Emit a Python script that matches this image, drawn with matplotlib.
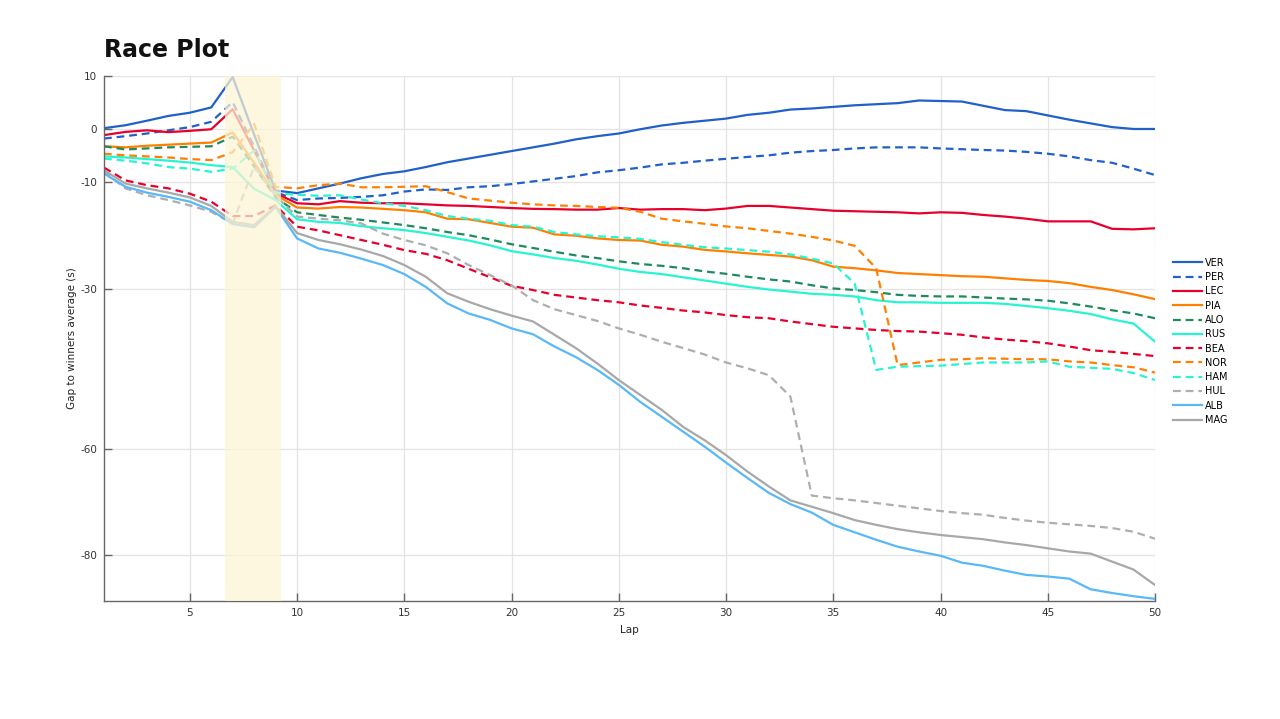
import matplotlib
matplotlib.use("Agg")
import matplotlib.pyplot as plt

plt.rcParams["axes.unicode_minus"] = False

laps = list(range(1, 51))

drivers = ["VER", "PER", "LEC", "PIA", "ALO", "RUS", "BEA", "NOR", "HAM", "HUL", "ALB", "MAG"]

VER = [0.2, 0.75, 1.6, 2.5, 3.1, 4.1, 9.8, -1.0, -11.5, -12.0,
       -11.1, -10.2, -9.2, -8.4, -7.9, -7.1, -6.2, -5.5, -4.8, -4.1,
       -3.4, -2.7, -1.9, -1.3, -0.8, 0.0, 0.7, 1.2, 1.6, 2.0,
       2.7, 3.1, 3.7, 3.9, 4.2, 4.5, 4.7, 4.9, 5.4, 5.3,
       5.2, 4.4, 3.6, 3.4, 2.6, 1.8, 1.1, 0.4, 0.05, 0.05]
PER = [-1.75, -1.3, -0.8, -0.2, 0.4, 1.4, 5.1, -3.3, -11.8, -13.3,
       -13.0, -12.9, -12.7, -12.4, -11.7, -11.3, -11.4, -10.9, -10.7, -10.3,
       -9.8, -9.3, -8.8, -8.1, -7.7, -7.2, -6.6, -6.3, -5.9, -5.55,
       -5.2, -4.9, -4.4, -4.1, -3.9, -3.6, -3.4, -3.4, -3.4, -3.6,
       -3.75, -3.9, -4.0, -4.25, -4.6, -5.1, -5.8, -6.3, -7.4, -8.6]
LEC = [-1.1, -0.5, -0.2, -0.55, -0.3, 0.0, 3.75, -4.0, -12.0, -13.9,
       -14.1, -13.5, -13.8, -13.9, -13.9, -14.1, -14.3, -14.4, -14.6, -14.8,
       -14.95, -15.0, -15.1, -15.1, -14.8, -15.1, -15.0, -15.0, -15.2, -14.9,
       -14.4, -14.4, -14.7, -15.0, -15.3, -15.4, -15.5, -15.6, -15.8, -15.6,
       -15.7, -16.1, -16.4, -16.8, -17.3, -17.3, -17.3, -18.7, -18.8, -18.6]
PIA = [-3.2, -3.4, -3.1, -2.9, -2.7, -2.5, -0.6, -6.3, -12.3, -14.7,
       -14.9, -14.6, -14.7, -14.95, -15.2, -15.6, -16.8, -16.9, -17.6, -18.3,
       -18.5, -19.75, -20.0, -20.5, -20.8, -20.9, -21.7, -22.05, -22.65, -22.95,
       -23.3, -23.6, -23.9, -24.6, -25.8, -26.1, -26.5, -27.0, -27.2, -27.4,
       -27.6, -27.7, -28.0, -28.3, -28.5, -28.9, -29.6, -30.2, -31.0, -31.9]
ALO = [-3.2, -3.8, -3.6, -3.4, -3.3, -3.2, -1.4, -7.0, -12.8, -15.6,
       -16.1, -16.6, -17.0, -17.5, -18.0, -18.6, -19.3, -19.9, -20.7, -21.6,
       -22.3, -23.0, -23.7, -24.2, -24.8, -25.3, -25.65, -26.1, -26.7, -27.15,
       -27.7, -28.2, -28.6, -29.3, -29.9, -30.2, -30.6, -31.1, -31.3, -31.4,
       -31.4, -31.6, -31.8, -31.95, -32.2, -32.7, -33.3, -34.0, -34.6, -35.5]
RUS = [-5.1, -5.3, -5.6, -5.9, -6.25, -6.75, -7.1, -11.2, -13.3, -16.9,
       -17.4, -17.6, -18.2, -18.6, -18.95, -19.5, -20.2, -20.9, -21.8, -22.9,
       -23.5, -24.2, -24.7, -25.4, -26.2, -26.8, -27.2, -27.8, -28.4, -29.0,
       -29.6, -30.1, -30.5, -30.9, -31.1, -31.4, -32.1, -32.5, -32.5, -32.6,
       -32.6, -32.6, -32.8, -33.2, -33.6, -34.1, -34.7, -35.7, -36.5, -39.9]
BEA = [-7.2, -9.6, -10.5, -11.1, -12.1, -13.6, -16.3, -16.3, -14.3, -18.3,
       -19.0, -19.9, -20.8, -21.7, -22.7, -23.4, -24.6, -26.2, -27.8, -29.4,
       -30.2, -31.1, -31.6, -32.1, -32.5, -33.1, -33.55, -34.05, -34.4, -34.9,
       -35.3, -35.5, -36.1, -36.6, -37.1, -37.4, -37.7, -37.9, -38.0, -38.3,
       -38.6, -39.1, -39.5, -39.8, -40.2, -40.8, -41.5, -41.8, -42.2, -42.6]
NOR = [-4.6, -4.9, -5.1, -5.3, -5.6, -5.8, -4.3, 1.0, -10.8, -11.1,
       -10.5, -10.2, -10.9, -10.9, -10.8, -10.7, -11.8, -13.0, -13.4, -13.8,
       -14.1, -14.3, -14.4, -14.6, -14.75, -15.5, -16.8, -17.3, -17.75, -18.25,
       -18.6, -19.1, -19.6, -20.2, -20.9, -21.9, -26.1, -44.3, -43.8, -43.3,
       -43.2, -43.0, -43.1, -43.2, -43.2, -43.6, -43.8, -44.3, -44.7, -45.7]
HAM = [-5.5, -5.9, -6.4, -7.1, -7.4, -8.0, -7.4, -4.0, -12.0, -12.3,
       -12.5, -12.4, -13.2, -13.9, -14.4, -15.2, -16.3, -16.8, -17.2, -18.0,
       -18.3, -19.3, -19.75, -20.1, -20.3, -20.6, -21.2, -21.7, -22.15, -22.4,
       -22.7, -23.0, -23.5, -24.3, -25.2, -29.0, -45.2, -44.6, -44.5, -44.4,
       -44.1, -43.8, -43.8, -43.8, -43.6, -44.6, -44.8, -45.0, -45.8, -47.1]
HUL = [-8.0, -11.1, -12.4, -13.3, -14.3, -15.5, -17.7, -7.0, -12.5, -16.4,
       -16.8, -17.1, -17.7, -19.6, -20.8, -21.8, -23.3, -25.5, -27.4, -29.3,
       -32.1, -33.8, -34.9, -36.0, -37.4, -38.6, -39.9, -41.1, -42.3, -43.8,
       -44.9, -46.2, -50.2, -68.8, -69.3, -69.7, -70.2, -70.7, -71.2, -71.7,
       -72.1, -72.4, -73.0, -73.5, -73.9, -74.2, -74.5, -74.9, -75.6, -76.9]
ALB = [-8.3, -10.8, -11.9, -12.7, -13.6, -15.2, -17.8, -18.4, -14.6, -20.5,
       -22.4, -23.2, -24.3, -25.5, -27.2, -29.6, -32.7, -34.6, -35.8, -37.4,
       -38.5, -40.8, -42.8, -45.2, -48.0, -51.2, -54.0, -56.8, -59.6, -62.6,
       -65.5, -68.3, -70.4, -72.0, -74.3, -75.7, -77.1, -78.4, -79.3, -80.1,
       -81.4, -82.0, -82.9, -83.7, -84.0, -84.4, -86.4, -87.1, -87.7, -88.2]
MAG = [-7.7, -10.2, -11.1, -11.9, -12.8, -14.4, -17.4, -18.0, -14.4, -19.5,
       -20.8, -21.6, -22.6, -23.8, -25.5, -27.7, -30.8, -32.4, -33.8, -35.0,
       -36.1, -38.6, -41.1, -44.0, -47.1, -49.9, -52.7, -55.9, -58.4, -61.2,
       -64.3, -67.1, -69.7, -70.9, -72.1, -73.4, -74.3, -75.1, -75.7, -76.2,
       -76.6, -77.0, -77.6, -78.1, -78.7, -79.3, -79.7, -81.2, -82.7, -85.6]

series = {"VER": VER, "PER": PER, "LEC": LEC, "PIA": PIA, "ALO": ALO, "RUS": RUS,
          "BEA": BEA, "NOR": NOR, "HAM": HAM, "HUL": HUL, "ALB": ALB, "MAG": MAG}

colors = {"VER": "#2160C8", "PER": "#2160C8", "LEC": "#E8002D", "PIA": "#FF8000",
          "ALO": "#1E8A5E", "RUS": "#27F4D2", "BEA": "#E8002D", "NOR": "#FF8000",
          "HAM": "#27F4D2", "HUL": "#AEAEAE", "ALB": "#58B8F8", "MAG": "#A8A8A8"}
styles = {"VER": "-", "PER": "--", "LEC": "-", "PIA": "-", "ALO": "--", "RUS": "-",
          "BEA": "--", "NOR": "--", "HAM": "--", "HUL": "--", "ALB": "-", "MAG": "-"}

yticks = [10, 0, -10, -30, -60, -80]
xticks = [5, 10, 15, 20, 25, 30, 35, 40, 45, 50]
sc_start, sc_end = 6.65, 9.27

fig = plt.figure(figsize=(12.8, 7.19), dpi=100)
ax = fig.add_axes([104/1280, 1-601/719, (1155-104)/1280, (601-76)/719])

for d in drivers:
    ax.plot(laps, series[d], color=colors[d], linestyle=styles[d], linewidth=1.6,
            label=d, zorder=2, dashes=(3.5, 2.2) if styles[d] == "--" else (None, None))

ax.axvspan(sc_start, sc_end, color="#FDF5D3", alpha=0.72, zorder=3, lw=0)

ax.set_xlim(1, 50)
ax.set_ylim(-88.6, 10)
ax.set_xticks(xticks)
ax.set_yticks(yticks)
ax.grid(True, color="#E3E3E3", linewidth=0.9, zorder=0)
ax.set_axisbelow(True)
for s in ["top", "right"]:
    ax.spines[s].set_visible(False)
for s in ["left", "bottom"]:
    ax.spines[s].set_color("#666666")
    ax.spines[s].set_linewidth(1.0)
ax.tick_params(direction="in", length=6, width=1, color="#666666",
               labelsize=7.5, labelcolor="#333333", pad=5)
ax.set_xlabel("Lap", fontsize=7.5, color="#222222", labelpad=5)
ax.set_ylabel("Gap to winners average (s)", fontsize=7.5, color="#222222", labelpad=2)

fig.text(104/1280, 1-57/719, "Race Plot", fontsize=17, fontweight="bold",
         family="DejaVu Sans", va="baseline", ha="left", color="#111111")

handles, labels = ax.get_legend_handles_labels()
fig.legend(handles, labels, loc="upper left", bbox_to_anchor=(1169/1280, 1-254/719),
           frameon=False, fontsize=7, handlelength=3.0, handletextpad=0.3,
           labelspacing=0.44, borderaxespad=0)

fig.savefig("out.png", dpi=100)
